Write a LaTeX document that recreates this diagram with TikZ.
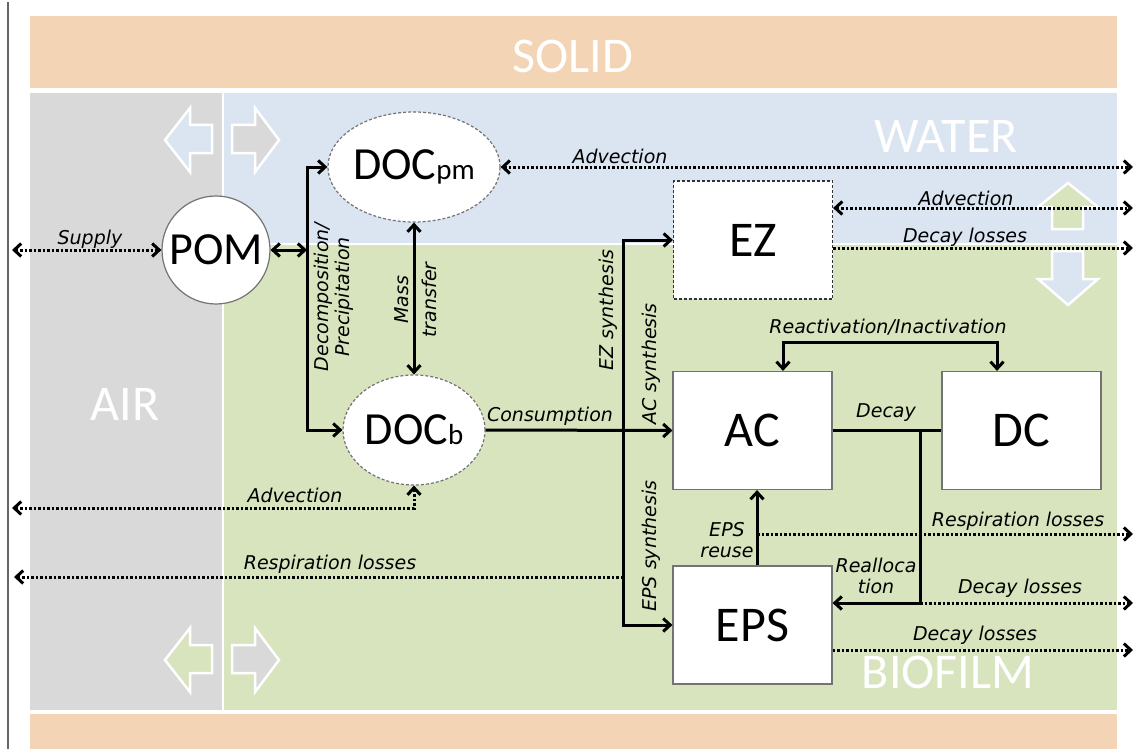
\documentclass[tikz,border=0pt]{standalone}
\usepackage{fontspec}
\setmainfont{Carlito}
\newfontfamily\hand{DejaVu Sans}
\usetikzlibrary{arrows.meta,shapes.geometric}
\definecolor{tanc}{HTML}{F3D5B5}
\definecolor{airgray}{HTML}{D9D9D9}
\definecolor{waterblue}{HTML}{DAE5F1}
\definecolor{biogreen}{HTML}{D7E4BD}
\begin{document}
\begin{tikzpicture}[x=1pt,y=-1pt,
  >={Straight Barb[length=7pt,width=13pt]},
  region/.style={font=\fontsize{50}{50}\selectfont, text=white, inner sep=0},
  lbl/.style={font=\hand\itshape\fontsize{19}{21}\selectfont, text=black, inner sep=1pt, align=center},
  sol/.style={line width=3pt},
  dotl/.style={line width=3pt, dash pattern=on 2.5pt off 2pt},
  box/.style={draw=black!55, line width=1.2pt, fill=white, minimum width=159pt, minimum height=118pt, inner sep=0, font=\fontsize{50}{50}\selectfont},
  ezbox/.style={box, draw=black!80, dash pattern=on 3pt off 2pt},
  docell/.style={ellipse, draw=black!55, line width=1.2pt, dash pattern=on 3pt off 2pt, fill=white, minimum width=142pt, minimum height=110pt, inner sep=0, font=\fontsize{46}{46}\selectfont},
  hollow/.style={draw=white, line width=2.5pt, line join=miter}
]
\useasboundingbox (0,0) rectangle (1137,749);
\fill[white] (0,0) rectangle (1137,749);
\draw[black!60, line width=1.2pt] (8,2) -- (8,749);
% regions
\fill[tanc] (30,16) rectangle (1117,88);
\fill[airgray] (30,93) rectangle (222,710);
\fill[waterblue] (224,93) rectangle (1117,243);
\fill[biogreen] (224,245) rectangle (1117,710);
\fill[tanc] (30,714) rectangle (1117,749);
\node[region] (solid) at (573,56) {SOLID};
\node[region] (water) at (946,136) {WATER};
\node[region] (air) at (125,404) {AIR};
\node[region] (biofilm) at (948,672) {BIOFILM};
% hollow exchange arrows
\filldraw[hollow, fill=waterblue] (165,140) -- (190,108) -- (190,125) -- (212,125) -- (212,153) -- (190,153) -- (190,172) -- cycle;
\filldraw[hollow, fill=airgray] (279,140) -- (255,108) -- (255,125) -- (232,125) -- (232,153) -- (255,153) -- (255,172) -- cycle;
\filldraw[hollow, fill=biogreen] (165,660) -- (190,628) -- (190,645) -- (212,645) -- (212,673) -- (190,673) -- (190,692) -- cycle;
\filldraw[hollow, fill=airgray] (279,660) -- (255,628) -- (255,645) -- (232,645) -- (232,673) -- (255,673) -- (255,692) -- cycle;
\filldraw[hollow, fill=biogreen] (1068,183) -- (1098,207) -- (1083,207) -- (1083,229) -- (1052,229) -- (1052,207) -- (1038,207) -- cycle;
\filldraw[hollow, fill=waterblue] (1068,305) -- (1098,279) -- (1083,279) -- (1083,251) -- (1052,251) -- (1052,279) -- (1038,279) -- cycle;
% nodes
\node[circle, draw=black!55, line width=1.2pt, fill=white, minimum size=108pt, inner sep=0, font=\fontsize{46}{46}\selectfont] (pom) at (216,250) {POM};
\node[docell] (docpm) at (414,167) {DOC{\fontsize{29}{29}\selectfont pm}};
\node[docell] (docb) at (414,430) {DOC{\fontsize{29}{29}\selectfont b}};
\node[ezbox] (ez) at (753,240) {EZ};
\node[box] (ac) at (752.5,430.5) {AC};
\node[box] (dc) at (1021.5,430.5) {DC};
\node[box] (eps) at (752.5,625) {EPS};
% coordinates
\coordinate (supL) at (12,250);
\coordinate (decoJ) at (307,250);
\coordinate (advR1) at (1133,167);
\coordinate (advEZR) at (1133,208);
\coordinate (dlEZR) at (1133,248);
\coordinate (synJ) at (623,430);
\coordinate (decJ) at (920,430);
\coordinate (reuseC) at (757,534);
\coordinate (respR) at (1133,534);
\coordinate (dlMidR) at (1133,603);
\coordinate (dlBotR) at (1133,650);
\coordinate (reactL) at (783,342);
\coordinate (reactR) at (997,342);
\coordinate (advLL) at (12,508);
\coordinate (respLL) at (14,577);
% solid connectors
\draw[sol,<->] (pom) -- (decoJ);
\draw[sol,->] (decoJ) |- (docpm.west);
\draw[sol,->] (decoJ) |- (docb.west);
\draw[sol,<->] (docpm.south) -- (docb.north);
\draw[sol,->] (docb.east) -- (ac.west);
\draw[sol,->] (synJ) |- (ez.west);
\draw[sol,->] (synJ) |- (eps.west);
\draw[sol] (ac.east) -- (dc.west);
\draw[sol,->] (decJ) |- (eps.east |- dlMidR);
\draw[sol,->] (eps.north -| reuseC) -- (ac.south -| reuseC);
\draw[sol,<->] (ac.north -| reactL) -- (reactL) -- (reactR) -- (dc.north -| reactR);
% dotted connectors
\draw[dotl,<->] (supL) -- (pom.west);
\draw[dotl,<->] (docpm.east) -- (advR1);
\draw[dotl,<->] (ez.east |- advEZR) -- (advEZR);
\draw[dotl,->] (ez.east |- dlEZR) -- (dlEZR);
\draw[dotl,<->] (advLL) -| (docb.south);
\draw[dotl,->] (synJ |- respLL) -- (respLL);
\draw[dotl,->] (reuseC) -- (respR);
\draw[dotl,->] (decJ |- dlMidR) -- (dlMidR);
\draw[dotl,->] (eps.east |- dlBotR) -- (dlBotR);
% labels
\node[lbl] (lsup) at (90,239) {Supply};
\node[lbl] (ladv1) at (620,156) {Advection};
\node[lbl] (ladv2) at (966,198) {Advection};
\node[lbl] (ldl1) at (965,237) {Decay losses};
\node[lbl, rotate=90] (ldeco) at (334,297) {Decomposition/\\Precipitation};
\node[lbl, rotate=90, font=\hand\itshape\fontsize{19}{28}\selectfont] (lmass) at (416,300) {Mass\\transfer};
\node[lbl, rotate=90] (lezs) at (608,310) {EZ synthesis};
\node[lbl, rotate=90] (lacs) at (651,364) {AC synthesis};
\node[lbl, rotate=90] (lepss) at (651,546) {EPS synthesis};
\node[lbl] (lcons) at (550,416) {Consumption};
\node[lbl] (lreact) at (888,327) {Reactivation/Inactivation};
\node[lbl] (ldecay) at (886,413) {Decay};
\node[lbl] (ladv3) at (295,495) {Advection};
\node[lbl] (lresp1) at (330,564) {Respiration losses};
\node[lbl] (lresp2) at (1018,521) {Respiration losses};
\node[lbl] (lreuse) at (727,540) {EPS\\reuse};
\node[lbl] (lrealloc) at (876,576) {Realloca\\tion};
\node[lbl] (ldl2) at (1020,588) {Decay losses};
\node[lbl] (ldl3) at (975,635) {Decay losses};
\end{tikzpicture}
\end{document}
